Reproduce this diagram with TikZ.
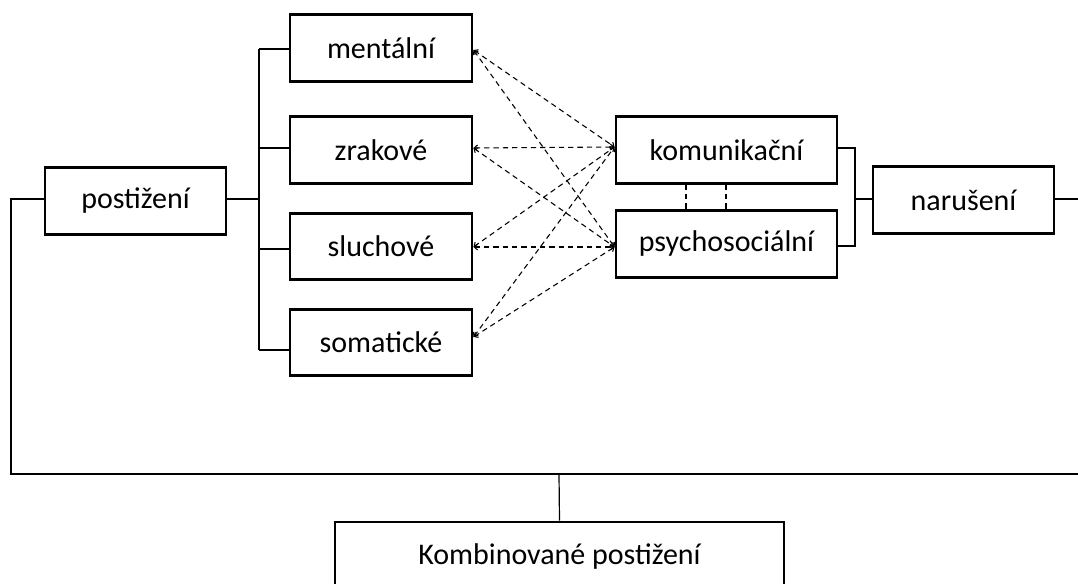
\documentclass[tikz,border=0pt]{standalone}
\usepackage{fontspec}
\setmainfont{Carlito}
\usetikzlibrary{arrows.meta}
\tikzset{
  box/.style={draw=black, line width=2.2pt, fill=white, inner sep=0pt,
    font=\fontsize{22.5}{27}\selectfont, text=black},
  leftbox/.style={box, minimum width=136.5pt, minimum height=50pt},
  conn/.style={draw=black, line width=0.9pt},
  dashlink/.style={draw=black, line width=0.8pt, dash pattern=on 4pt off 3pt,
    {Straight Barb[length=2.5pt,width=4.5pt]}-{Straight Barb[length=2.5pt,width=4.5pt]}},
  vdash/.style={draw=black, line width=0.8pt, dash pattern=on 4pt off 3pt}
}
\begin{document}
\begin{tikzpicture}[x=0.75pt,y=-0.75pt]
\useasboundingbox (0,0) rectangle (1078,584);
\fill[white] (0,0) rectangle (1078,584);
\clip (0,0) rectangle (1078,584);

% nodes
\node[box, minimum width=135.75pt, minimum height=50pt] (post) at (135.5,201) {postižení};
\node[leftbox] (ment) at (381,48) {mentální};
\node[leftbox] (zrak) at (381,150) {zrakové};
\node[leftbox] (sluch) at (381,246.5) {sluchové};
\node[leftbox] (som) at (381,342.5) {somatické};
\node[box, minimum width=165.75pt, minimum height=50pt] (kom) at (726.5,150) {komunikační};
\node[box, minimum width=165.75pt, minimum height=50pt] (psy) at (726.5,244) {psychosociální};
\node[box, minimum width=135.75pt, minimum height=50pt] (nar) at (963.5,200) {narušení};
\node[box, minimum width=336.75pt, minimum height=51pt] (komb) at (559.5,556) {Kombinované postižení};

% coordinates
\coordinate (bus) at (259,199);
\coordinate (rbus) at (855,199);
\coordinate (lframe) at (11,474);
\coordinate (rframe) at (1095,474);
\coordinate (mid) at (559,474);

% bracket from postižení to the four types
\draw[conn] (post.east |- bus) -- (bus);
\draw[conn] (bus |- 0,49) -- (bus |- 0,350);
\draw[conn] (bus |- 0,49) -- (ment.west |- 0,49);
\draw[conn] (bus |- 0,148) -- (zrak.west |- 0,148);
\draw[conn] (bus |- 0,249) -- (sluch.west |- 0,249);
\draw[conn] (bus |- 0,350) -- (som.west |- 0,350);

% dashed links
\coordinate (km) at (617,147);
\coordinate (ps) at (617,247);
\draw[dashlink] (ment.east |- 0,50) -- (kom.west |- km);
\draw[dashlink] (ment.east |- 0,50) -- (psy.west |- ps);
\draw[dashlink] (zrak.east |- 0,148) -- (kom.west |- km);
\draw[dashlink] (zrak.east |- 0,148) -- (psy.west |- ps);
\draw[dashlink] (sluch.east |- 0,247) -- (kom.west |- km);
\draw[dashlink] (sluch.east |- 0,247) -- (psy.west |- ps);
\draw[dashlink] (som.east |- 0,337) -- (kom.west |- km);
\draw[dashlink] (som.east |- 0,337) -- (psy.west |- ps);

% dashed between komunikační and psychosociální
\draw[vdash] (kom.south -| 686,0) -- (psy.north -| 686,0);
\draw[vdash] (kom.south -| 726,0) -- (psy.north -| 726,0);

% right bracket to narušení
\draw[conn] (kom.east |- 0,148) -- (rbus |- 0,148) -- (rbus |- 0,246) -- (psy.east |- 0,246);
\draw[conn] (rbus) -- (nar.west |- rbus);

% outer frame
\draw[conn] (post.west |- bus) -- (lframe |- bus) -- (lframe) -- (rframe) -- (rframe |- bus) -- (nar.east |- bus);
\draw[conn] (mid) -- (komb.north);
\end{tikzpicture}
\end{document}
